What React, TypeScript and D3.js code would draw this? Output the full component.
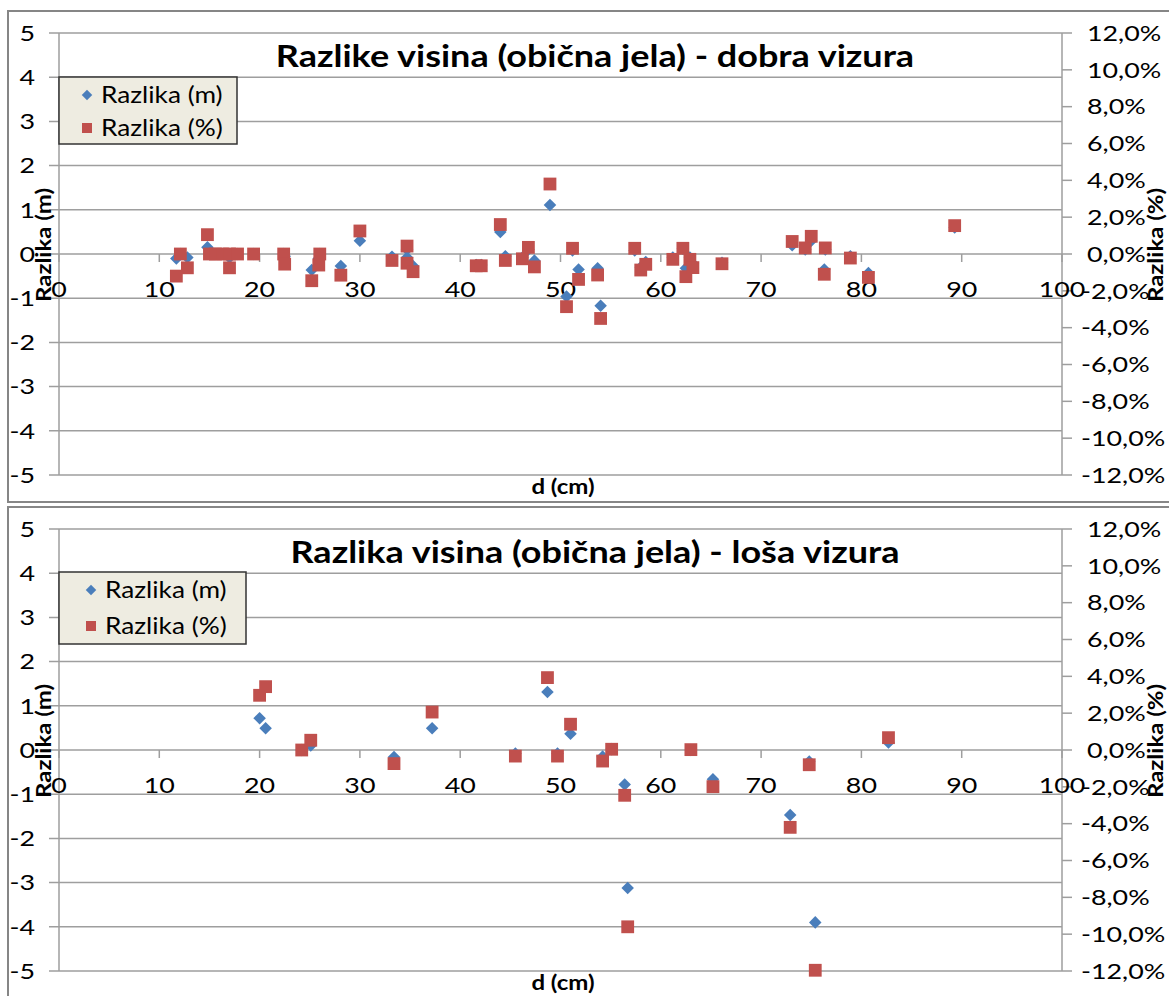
import React from "react";
import * as d3 from "d3";

// ---- Data: top chart (dobra vizura) ----
const topD = [11.7, 12.1, 12.8, 14.8, 15.0, 15.6, 16.3, 17.0, 17.0, 17.8, 19.4, 22.4, 22.5, 25.2, 25.9, 26.0, 28.1, 30.0, 33.2, 34.7, 34.7, 35.3, 41.6, 42.1, 44.0, 44.5, 46.2, 46.8, 47.4, 48.95, 50.6, 51.2, 51.8, 53.7, 54.0, 57.4, 58.0, 58.5, 61.2, 62.2, 62.5, 62.9, 63.2, 66.1, 73.1, 74.4, 75.0, 76.3, 76.4, 78.9, 80.7, 89.3];
const topM = [-0.1, 0.0, -0.08, 0.15, 0.0, 0.0, 0.0, -0.08, 0.0, 0.0, 0.0, 0.0, -0.05, -0.36, -0.1, 0.0, -0.27, 0.3, -0.06, 0.1, -0.08, -0.27, -0.25, -0.25, 0.5, -0.05, -0.08, 0.1, -0.15, 1.11, -0.96, 0.08, -0.35, -0.32, -1.17, 0.08, -0.3, -0.18, -0.08, 0.12, -0.32, -0.08, -0.22, -0.2, 0.2, 0.1, 0.3, -0.35, 0.1, -0.05, -0.43, 0.6];
const topPct = [-1.2, 0.0, -0.75, 1.05, 0.0, 0.0, 0.0, -0.75, 0.0, 0.0, 0.0, 0.0, -0.55, -1.45, -0.6, 0.0, -1.15, 1.25, -0.35, 0.43, -0.5, -0.96, -0.64, -0.64, 1.6, -0.35, -0.26, 0.36, -0.7, 3.8, -2.86, 0.31, -1.38, -1.14, -3.5, 0.31, -0.87, -0.56, -0.29, 0.31, -1.23, -0.29, -0.74, -0.53, 0.68, 0.33, 0.96, -1.1, 0.33, -0.22, -1.27, 1.54];

// ---- Data: bottom chart (loša vizura) ----
const botD = [20.0, 20.6, 24.2, 25.1, 33.4, 37.2, 45.5, 48.7, 49.7, 51.0, 54.2, 55.1, 56.4, 56.7, 63.0, 65.2, 72.9, 74.8, 75.4, 82.7];
const botM = [0.72, 0.49, 0.0, 0.1, -0.16, 0.49, -0.08, 1.31, -0.08, 0.37, -0.15, 0.02, -0.78, -3.12, 0.0, -0.66, -1.47, -0.26, -3.9, 0.17];
const botPct = [2.97, 3.44, 0.0, 0.53, -0.74, 2.06, -0.33, 3.93, -0.33, 1.4, -0.6, 0.04, -2.46, -9.6, 0.02, -1.99, -4.2, -0.8, -11.96, 0.67];

// ---- Axes ----
const leftTicks = [-5, -4, -3, -2, -1, 0, 1, 2, 3, 4, 5];
const rightTicks = [-12, -10, -8, -6, -4, -2, 0, 2, 4, 6, 8, 10, 12];
const xTicks = [0, 10, 20, 30, 40, 50, 60, 70, 80, 90, 100];

const titleTop = "Razlike visina (obična jela) - dobra vizura";
const titleBot = "Razlika visina (obična jela) - loša vizura";
const legendLabels = ["Razlika (m)", "Razlika (%)"];

const BLUE = "#4A7EBB";
const RED = "#C0504D";
const GRID = "#9E9E9E";
const FONT = "Lato, 'Open Sans', sans-serif";

const fmtPct = (v: number) => d3.format(".1f")(v).replace(".", ",").replace("−", "-") + "%";

type TProps = {
  x: number;
  y: number;
  size: number;
  sx?: number;
  rot?: number;
  anchor?: "start" | "middle" | "end";
  bold?: boolean;
  children: React.ReactNode;
};

function T({ x, y, size, sx = 1.2, rot = 0, anchor = "start", bold = false, children }: TProps) {
  return (
    <text
      transform={`translate(${x},${y}) rotate(${rot}) scale(${sx},1)`}
      dy="0.35em"
      textAnchor={anchor}
      fontFamily={FONT}
      fontWeight={bold ? "bold" : "normal"}
      fontSize={size}
      fill="#000"
    >
      {children}
    </text>
  );
}

type ChartProps = {
  oy: number;
  frameY: number;
  title: string;
  ds: number[];
  ms: number[];
  ps: number[];
  legend: { x: number; y: number; w: number; h: number; r1: number; r2: number; mx: number; tx: number };
};

function Chart({ oy, frameY, title, ds, ms, ps, legend }: ChartProps) {
  const x = d3.scaleLinear().domain([0, 100]).range([59, 1062]);
  const yl = d3.scaleLinear().domain([-5, 5]).range([oy + 442, oy]);
  const yr = d3.scaleLinear().domain([-12, 12]).range([oy + 442, oy]);
  const zeroY = yl(0);
  const diamond = d3.symbol().type(d3.symbolDiamond2).size(100)();
  const square = d3.symbol().type(d3.symbolSquare).size(164)();
  return (
    <g>
      <rect x={8} y={frameY} width={1180} height={491} fill="#fff" stroke="#868686" strokeWidth={2} />
      {leftTicks.map((t) => (
        <g key={"l" + t}>
          <line x1={49} x2={1062} y1={yl(t)} y2={yl(t)} stroke={GRID} strokeWidth={1.5} />
          <T x={35} y={yl(t)} size={22} sx={1.22} anchor="end">
            {t < 0 ? "-" + Math.abs(t) : String(t)}
          </T>
        </g>
      ))}
      <line x1={59} x2={59} y1={oy} y2={oy + 442} stroke={GRID} strokeWidth={1.5} />
      <line x1={1062} x2={1062} y1={oy} y2={oy + 442} stroke={GRID} strokeWidth={1.5} />
      {rightTicks.map((t) => (
        <g key={"r" + t}>
          <line x1={1062} x2={1072} y1={yr(t)} y2={yr(t)} stroke={GRID} strokeWidth={1.5} />
          <T x={t < 0 ? 1081 : 1087} y={yr(t)} size={22} sx={1.22}>
            {fmtPct(t)}
          </T>
        </g>
      ))}
      {xTicks.map((t) => (
        <g key={"x" + t}>
          <line x1={x(t)} x2={x(t)} y1={zeroY} y2={zeroY + 8} stroke={GRID} strokeWidth={1.5} />
          <T x={x(t)} y={zeroY + 35} size={22} sx={1.22} anchor="middle">
            {String(t)}
          </T>
        </g>
      ))}
      <text
        transform={`translate(595,${oy + 34}) scale(1.2,1)`}
        textAnchor="middle"
        fontFamily={FONT}
        fontWeight="bold"
        fontSize={30}
        fill="#000"
      >
        {title}
      </text>
      <T x={44} y={oy + 212} size={20} sx={1.2} rot={-90} anchor="middle" bold>
        Razlika (m)
      </T>
      <T x={1156} y={oy + 212} size={20} sx={1.2} rot={-90} anchor="middle" bold>
        Razlika (%)
      </T>
      <T x={563} y={oy + 454} size={20} sx={1.2} anchor="middle" bold>
        d (cm)
      </T>
      {ds.map((d, i) => (
        <path key={"m" + i} d={diamond || ""} transform={`translate(${x(d)},${yl(ms[i])})`} fill={BLUE} />
      ))}
      {ds.map((d, i) => (
        <path key={"p" + i} d={square || ""} transform={`translate(${x(d)},${yr(ps[i])})`} fill={RED} />
      ))}
      <rect x={legend.x} y={legend.y} width={legend.w} height={legend.h} fill="#EEECE1" stroke="#333" strokeWidth={1.5} />
      <path d={d3.symbol().type(d3.symbolDiamond2).size(70)() || ""} transform={`translate(${legend.mx},${legend.r1})`} fill={BLUE} />
      <path d={d3.symbol().type(d3.symbolSquare).size(100)() || ""} transform={`translate(${legend.mx},${legend.r2})`} fill={RED} />
      <T x={legend.tx} y={legend.r1} size={23} sx={1.14}>{legendLabels[0]}</T>
      <T x={legend.tx} y={legend.r2} size={23} sx={1.14}>{legendLabels[1]}</T>
    </g>
  );
}

export default function App() {
  return (
    <svg width={1169} height={996} style={{ position: "absolute", left: 0, top: 0, display: "block" }}>
      <rect x={0} y={0} width={1169} height={996} fill="#fff" />
      <Chart
        oy={33}
        frameY={11}
        title={titleTop}
        ds={topD}
        ms={topM}
        ps={topPct}
        legend={{ x: 59, y: 77, w: 178, h: 67, r1: 95, r2: 128, mx: 87, tx: 101 }}
      />
      <Chart
        oy={529}
        frameY={507}
        title={titleBot}
        ds={botD}
        ms={botM}
        ps={botPct}
        legend={{ x: 59, y: 572, w: 187, h: 72, r1: 590, r2: 626, mx: 91, tx: 105 }}
      />
    </svg>
  );
}
